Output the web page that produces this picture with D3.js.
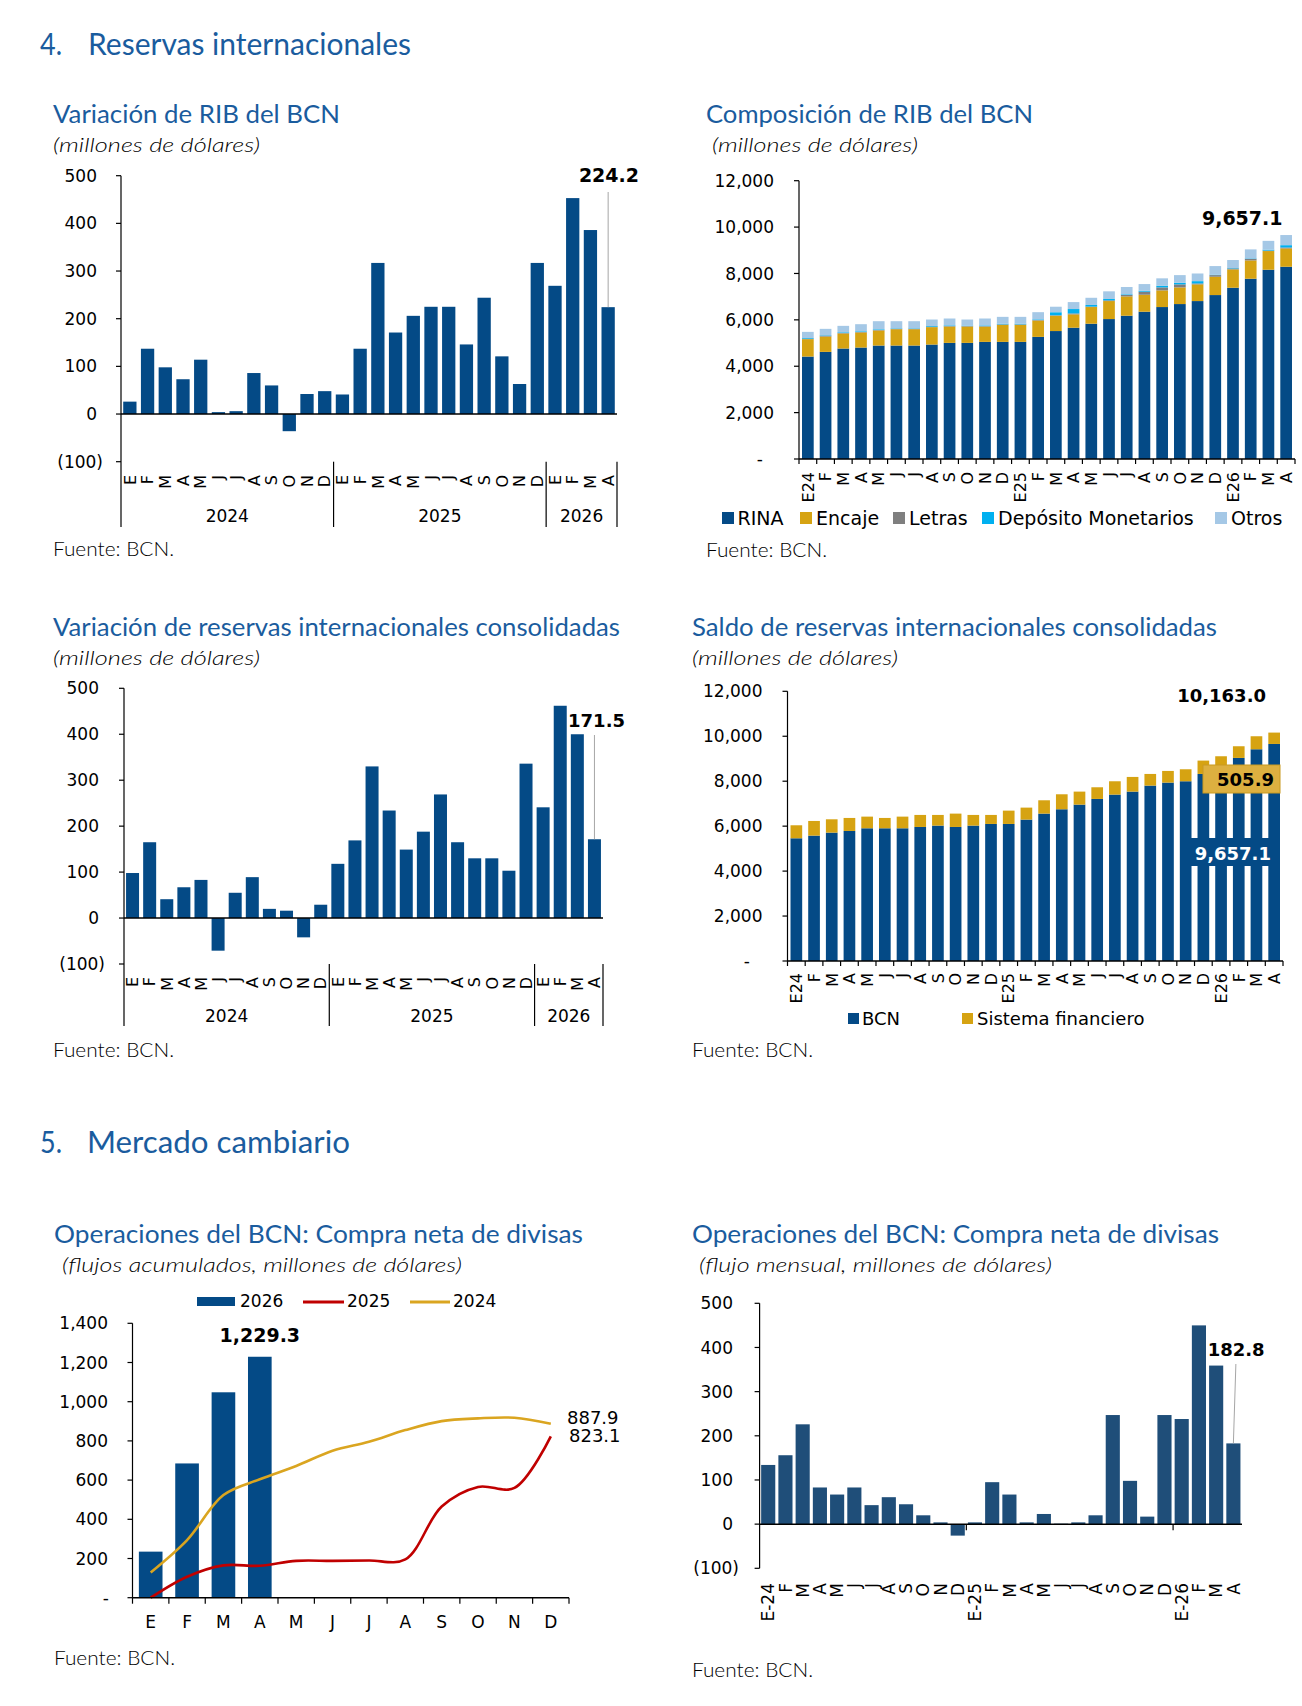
<!DOCTYPE html>
<html>
<head>
<meta charset="utf-8">
<script src="https://d3js.org/d3.v7.min.js"></script>
<style>
body { margin: 0; background: #fff; }
text { font-family: "DejaVu Sans", Verdana, sans-serif; }
.ttl { font-family: Lato, "Open Sans", sans-serif; fill: #1a5c9e; }
.sub { font-family: Lato, "Open Sans", sans-serif; font-style: italic; font-weight: 300; fill: #000; }
.src { font-family: Lato, "Open Sans", sans-serif; font-weight: 300; fill: #000; }
</style>
</head>
<body>
<script>
// ---- data ----
const mesesVar = ["E","F","M","A","M","J","J","A","S","O","N","D",
                  "E","F","M","A","M","J","J","A","S","O","N","D",
                  "E","F","M","A"];
const anios = ["2024", "2025", "2026"];
const mesesComp = ["E24","F","M","A","M","J","J","A","S","O","N","D",
                   "E25","F","M","A","M","J","J","A","S","O","N","D",
                   "E26","F","M","A"];
const mesesFlujo = ["E-24","F","M","A","M","J","J","A","S","O","N","D",
                    "E-25","F","M","A","M","J","J","A","S","O","N","D",
                    "E-26","F","M","A"];
const mesesAnio = ["E","F","M","A","M","J","J","A","S","O","N","D"];

const varRIB = [26,137,98,73,114,4,6,86,60,-36,42,48,
                41,137,317,171,206,225,225,146,244,121,63,317,
                269,453,386,224.2];
const varCons = [98,165,41,67,83,-71,55,89,20,16,-42,29,
                 118,169,330,234,149,188,269,165,130,130,103,336,
                 241,462,400,171.5];

const rina = [4417,4619,4763,4806,4892,4892,4892,4935,5007,5007,5050,5050,
              5050,5266,5517,5661,5833,6034,6178,6351,6552,6681,6810,7069,
              7385,7773,8161,8290];
const encaje = [750,660,650,650,650,705,705,750,705,705,660,734,
                734,705,661,575,719,776,833,732,718,718,719,790,
                790,790,805,790];
const letras = [20,40,20,20,20,20,20,20,20,20,20,20,
                20,20,20,40,20,30,60,130,130,130,40,70,
                40,70,20,40];
const depositos = [30,20,30,30,30,20,20,30,30,20,30,30,
                   30,30,130,190,70,60,30,40,70,70,100,20,
                   20,20,40,100];
const otros = [265,273,278,307,350,305,305,279,296,262,298,295,
               295,310,238,300,310,330,316,290,320,330,330,370,
               345,385,380,437];

const bcn = [5460,5579,5712,5786,5905,5905,5905,5964,6024,5964,6024,6098,
             6098,6291,6558,6751,6958,7211,7404,7537,7804,7938,7997,8323,
             8590,9036,9421,9657.1];
const sisFin = [579,652,593,579,519,460,519,535,475,594,475,401,
                593,534,593,667,579,519,593,653,519,519,534,594,
                520,519,579,505.9];

const compra2026 = [235,685,1048,1229.3];
const compra2025 = [0,107,165,163,188,188,190,195,465,565,560,823.1];
const compra2024 = [129,294,524,604,672,750,796,855,901,915,918,887.9];

const flujoMensual = [134,156,226,83,67,83,43,61,45,20,4,-26,
                      4,95,67,4,23,1,4,20,247,98,17,247,
                      238,450,359,182.8];

// ---- colours ----
const navy = "#044a86";
const gold = "#d6a312";
const grey = "#7f7f7f";
const cyan = "#00b0f0";
const lightBlue = "#a5c8e6";
const flowBlue = "#1f4e79";
const red = "#c00000";
const yellow = "#daa520";
const leader = "#a6a6a6";

const W = 1302, H = 1706;
const svg = d3.select("body").append("svg")
    .attr("width", W)
    .attr("height", H);
svg.append("rect").attr("width", W).attr("height", H).attr("fill", "#fff");

function label(x, y, s, size, anchor, weight, fill) {
    const t = svg.append("text")
        .attr("x", x).attr("y", y)
        .attr("font-size", size)
        .attr("text-anchor", anchor || "start")
        .attr("fill", fill || "#000")
        .text(s);
    if (weight) t.attr("font-weight", weight);
    return t;
}

function fit(sel, len) {
    return sel.attr("textLength", len).attr("lengthAdjust", "spacingAndGlyphs");
}

function line(x1, y1, x2, y2, color, w) {
    svg.append("line")
        .attr("x1", x1).attr("y1", y1).attr("x2", x2).attr("y2", y2)
        .attr("stroke", color || "#000")
        .attr("stroke-width", w || 1.2);
}

// section headings
fit(label(40, 55, "4.", 30).attr("class", "ttl"), 22);
fit(label(88, 55, "Reservas internacionales", 30).attr("class", "ttl"), 323);
fit(label(40, 1153, "5.", 30).attr("class", "ttl"), 22);
fit(label(87, 1153, "Mercado cambiario", 30).attr("class", "ttl"), 263);

function panelText(p) {
    fit(label(p.x, p.ty, p.title, 25).attr("class", "ttl"), p.tl);
    fit(label(p.sx, p.ty + 29, p.sub, 20).attr("class", "sub"), p.sl);
    fit(label(p.x, p.fy, "Fuente: BCN.", 19).attr("class", "src"), 121);
}

panelText({x: 53, ty: 123, title: "Variación de RIB del BCN", tl: 287,
           sx: 53, sub: "(millones de dólares)", sl: 207, fy: 556});
panelText({x: 706, ty: 123, title: "Composición de RIB del BCN", tl: 327,
           sx: 712, sub: "(millones de dólares)", sl: 206, fy: 557});
panelText({x: 53, ty: 636, title: "Variación de reservas internacionales consolidadas", tl: 567,
           sx: 53, sub: "(millones de dólares)", sl: 207, fy: 1057});
panelText({x: 692, ty: 636, title: "Saldo de reservas internacionales consolidadas", tl: 525,
           sx: 692, sub: "(millones de dólares)", sl: 206, fy: 1057});
panelText({x: 54, ty: 1243, title: "Operaciones del BCN: Compra neta de divisas", tl: 529,
           sx: 62, sub: "(flujos acumulados, millones de dólares)", sl: 400, fy: 1665});
panelText({x: 692, ty: 1243, title: "Operaciones del BCN: Compra neta de divisas", tl: 527,
           sx: 699, sub: "(flujo mensual, millones de dólares)", sl: 353, fy: 1677});

const fmtParen = d => d < 0 ? "(" + Math.abs(d) + ")" : String(d);
const fmtComma = d => d === 0 ? "-" : d3.format(",")(d);

// y axis ticks and labels
function yTicks(y, ticks, ax, fmt, rightPos, rightNeg, rightZero) {
    ticks.forEach(t => {
        line(ax - 5, y(t), ax, y(t));
        let r = t < 0 ? rightNeg : (t === 0 && rightZero ? rightZero : rightPos);
        label(r, y(t), fmt(t), 17, "end").attr("dy", "0.36em");
    });
}

function rotLabels(x, labels, top, size) {
    labels.forEach((s, i) => {
        svg.append("text")
            .attr("transform", "translate(" + (x(i) + x.bandwidth() / 2) + "," + top + ") rotate(-90)")
            .attr("text-anchor", "end")
            .attr("dy", "0.36em")
            .attr("font-size", size)
            .text(s);
    });
}

// ---- variation charts (1 and 3) ----
function varChart(o, vals) {
    const x = d3.scaleBand().domain(d3.range(vals.length))
        .range([o.x0, o.x1]).paddingInner(o.pad).paddingOuter(o.pad / 2);
    const y = d3.scaleLinear().domain([-100, 500]).range([o.yb, o.yt]);

    svg.append("g").selectAll("rect").data(vals).join("rect")
        .attr("x", (d, i) => x(i))
        .attr("width", x.bandwidth())
        .attr("y", d => y(Math.max(0, d)))
        .attr("height", d => Math.abs(y(d) - y(0)))
        .attr("fill", navy);

    line(o.x0, y(0), o.x1, y(0), "#000", 1.5);
    line(o.x0, y(500), o.x0, o.sepBottom);
    yTicks(y, [-100, 0, 100, 200, 300, 400, 500], o.x0, fmtParen, o.rp, o.rn);

    // year separators
    const step = (o.x1 - o.x0) / vals.length;
    [12, 24, 28].forEach(k => line(o.x0 + k * step, y(-100), o.x0 + k * step, o.sepBottom));
    const cuts = [0, 12, 24, 28];
    anios.forEach((a, j) => {
        label(o.x0 + (cuts[j] + cuts[j + 1]) / 2 * step, o.yearY, a, 17, "middle");
    });
    rotLabels(x, mesesVar, o.labTop, 16);

    const last = vals.length - 1;
    const lx = x(last) + x.bandwidth() / 2;
    line(lx, o.leadTop, lx, y(vals[last]), leader, 1);
    label(o.valX, o.valY, vals[last].toFixed(1), o.valSize, "end", "bold");
}

varChart({x0: 121, x1: 617, yt: 175.7, yb: 461.7, pad: 0.25, sepBottom: 527,
          rp: 97, rn: 103, yearY: 522, labTop: 475,
          leadTop: 192, valX: 639, valY: 182, valSize: 19}, varRIB);
varChart({x0: 124, x1: 603, yt: 688.3, yb: 964, pad: 0.24, sepBottom: 1026,
          rp: 99, rn: 105, yearY: 1022, labTop: 977,
          leadTop: 735, valX: 625, valY: 727, valSize: 18}, varCons);

// ---- chart 2: composition ----
(function () {
    const keys = ["rina", "encaje", "letras", "depositos", "otros"];
    const colors = [navy, gold, grey, cyan, lightBlue];
    const rows = rina.map((d, i) => ({
        rina: d, encaje: encaje[i], letras: letras[i],
        depositos: depositos[i], otros: otros[i]
    }));
    const series = d3.stack().keys(keys)(rows);
    const x0 = 799, x1 = 1295;
    const x = d3.scaleBand().domain(d3.range(rows.length))
        .range([x0, x1]).paddingInner(0.34).paddingOuter(0.17);
    const y = d3.scaleLinear().domain([0, 12000]).range([459, 180.7]);

    svg.append("g").selectAll("g").data(series).join("g")
        .attr("fill", (d, i) => colors[i])
        .selectAll("rect").data(d => d).join("rect")
        .attr("x", (d, i) => x(i))
        .attr("width", x.bandwidth())
        .attr("y", d => y(d[1]))
        .attr("height", d => y(d[0]) - y(d[1]));

    line(x0, y(0), x1, y(0), "#000", 1.5);
    line(x0, y(12000), x0, y(0));
    const step = (x1 - x0) / rows.length;
    d3.range(rows.length + 1).forEach(k => line(x0 + k * step, y(0), x0 + k * step, y(0) + 5));
    yTicks(y, d3.range(0, 12001, 2000), x0, fmtComma, 774, 774, 763);
    rotLabels(x, mesesComp, 472, 16);

    label(1282.5, 225, "9,657.1", 19, "end", "bold");

    const leg = [["RINA", 722, 737.5], ["Encaje", 800, 816], ["Letras", 893, 909],
                 ["Depósito Monetarios", 982, 998], ["Otros", 1215, 1231]];
    leg.forEach((l, i) => {
        svg.append("rect").attr("x", l[1]).attr("y", 512).attr("width", 12).attr("height", 12)
            .attr("fill", colors[i]);
        label(l[2], 525, l[0], 19);
    });
})();

// ---- chart 4: consolidated balance ----
(function () {
    const rows = bcn.map((d, i) => ({bcn: d, sf: sisFin[i]}));
    const series = d3.stack().keys(["bcn", "sf"])(rows);
    const colors = [navy, gold];
    const x0 = 787.5, x1 = 1283;
    const x = d3.scaleBand().domain(d3.range(rows.length))
        .range([x0, x1]).paddingInner(0.34).paddingOuter(0.17);
    const y = d3.scaleLinear().domain([0, 12000]).range([961, 691.3]);

    svg.append("g").selectAll("g").data(series).join("g")
        .attr("fill", (d, i) => colors[i])
        .selectAll("rect").data(d => d).join("rect")
        .attr("x", (d, i) => x(i))
        .attr("width", x.bandwidth())
        .attr("y", d => y(d[1]))
        .attr("height", d => y(d[0]) - y(d[1]));

    line(x0, y(0), x1, y(0), "#000", 1.5);
    line(x0, y(12000), x0, y(0));
    const step = (x1 - x0) / rows.length;
    d3.range(rows.length + 1).forEach(k => line(x0 + k * step, y(0), x0 + k * step, y(0) + 5));
    yTicks(y, d3.range(0, 12001, 2000), x0, fmtComma, 762.5, 762.5, 750);
    rotLabels(x, mesesComp, 973, 16);

    const last = rows.length - 1;
    const total = bcn[last] + sisFin[last];
    label(1266, 702, d3.format(",.1f")(total), 18, "end", "bold");

    svg.append("rect").attr("x", 1203).attr("y", 765).attr("width", 77).attr("height", 28)
        .attr("fill", "#ddb040").attr("stroke", "#c99a20").attr("stroke-width", 1);
    label(1274, 786, sisFin[last].toFixed(1), 18, "end", "bold");

    svg.append("rect").attr("x", 1191).attr("y", 838).attr("width", 82).attr("height", 28)
        .attr("fill", navy);
    label(1271, 860, d3.format(",.1f")(bcn[last]), 18, "end", "bold", "#fff");

    svg.append("rect").attr("x", 848).attr("y", 1013).attr("width", 11).attr("height", 11).attr("fill", navy);
    label(862, 1025, "BCN", 18);
    svg.append("rect").attr("x", 962).attr("y", 1013).attr("width", 11).attr("height", 11).attr("fill", gold);
    label(977, 1025, "Sistema financiero", 18);
})();

// ---- chart 5: cumulative purchases ----
(function () {
    const x0 = 132.5, x1 = 569;
    const x = d3.scaleBand().domain(d3.range(12)).range([x0, x1])
        .paddingInner(0.35).paddingOuter(0.175);
    const y = d3.scaleLinear().domain([0, 1400]).range([1597.7, 1323.3]);
    const cx = i => x(i) + x.bandwidth() / 2;

    svg.append("g").selectAll("rect").data(compra2026).join("rect")
        .attr("x", (d, i) => x(i))
        .attr("width", x.bandwidth())
        .attr("y", d => y(d))
        .attr("height", d => y(0) - y(d))
        .attr("fill", navy);

    const path = d3.line().x((d, i) => cx(i)).y(d => y(d)).curve(d3.curveCatmullRom.alpha(0.5));
    svg.append("path").attr("d", path(compra2024)).attr("fill", "none")
        .attr("stroke", yellow).attr("stroke-width", 2.6);
    svg.append("path").attr("d", path(compra2025)).attr("fill", "none")
        .attr("stroke", red).attr("stroke-width", 2.6);

    line(x0, y(0), x1, y(0), "#000", 1.5);
    line(x0, y(1400), x0, y(0));
    const step = (x1 - x0) / 12;
    d3.range(13).forEach(k => line(x0 + k * step, y(0), x0 + k * step, y(0) + 6));
    yTicks(y, d3.range(0, 1401, 200), x0, fmtComma, 108, 108, 109);
    mesesAnio.forEach((m, i) => label(cx(i), 1628, m, 17, "middle"));

    label(cx(3), 1342, d3.format(",.1f")(compra2026[3]), 19, "middle", "bold");
    label(567, 1424, compra2024[11].toFixed(1), 18);
    label(569, 1442, compra2025[11].toFixed(1), 18);

    svg.append("rect").attr("x", 197).attr("y", 1297).attr("width", 38).attr("height", 9).attr("fill", navy);
    label(240, 1307, "2026", 17);
    line(303, 1302, 344, 1302, red, 3);
    label(347, 1307, "2025", 17);
    line(410, 1302, 450, 1302, yellow, 3);
    label(453, 1307, "2024", 17);
})();

// ---- chart 6: monthly purchases ----
(function () {
    const x0 = 759.6, x1 = 1242;
    const x = d3.scaleBand().domain(d3.range(flujoMensual.length))
        .range([x0, x1]).paddingInner(0.18).paddingOuter(0.09);
    const y = d3.scaleLinear().domain([-100, 500]).range([1568.3, 1303.3]);

    svg.append("g").selectAll("rect").data(flujoMensual).join("rect")
        .attr("x", (d, i) => x(i))
        .attr("width", x.bandwidth())
        .attr("y", d => y(Math.max(0, d)))
        .attr("height", d => Math.abs(y(d) - y(0)))
        .attr("fill", flowBlue);

    line(x0, y(0), x1, y(0), "#000", 1.5);
    line(x0, y(500), x0, y(-100));
    const step = (x1 - x0) / flujoMensual.length;
    [12, 24].forEach(k => line(x0 + k * step, y(0), x0 + k * step, y(0) + 6));
    yTicks(y, [-100, 0, 100, 200, 300, 400, 500], x0, fmtParen, 733, 739);
    rotLabels(x, mesesFlujo, 1583, 17);

    const last = flujoMensual.length - 1;
    const lx = x(last) + x.bandwidth() / 2;
    line(lx + 2.5, 1364, lx, y(flujoMensual[last]), leader, 1);
    label(1264.6, 1356, flujoMensual[last].toFixed(1), 18, "end", "bold");
})();
</script>
</body>
</html>
